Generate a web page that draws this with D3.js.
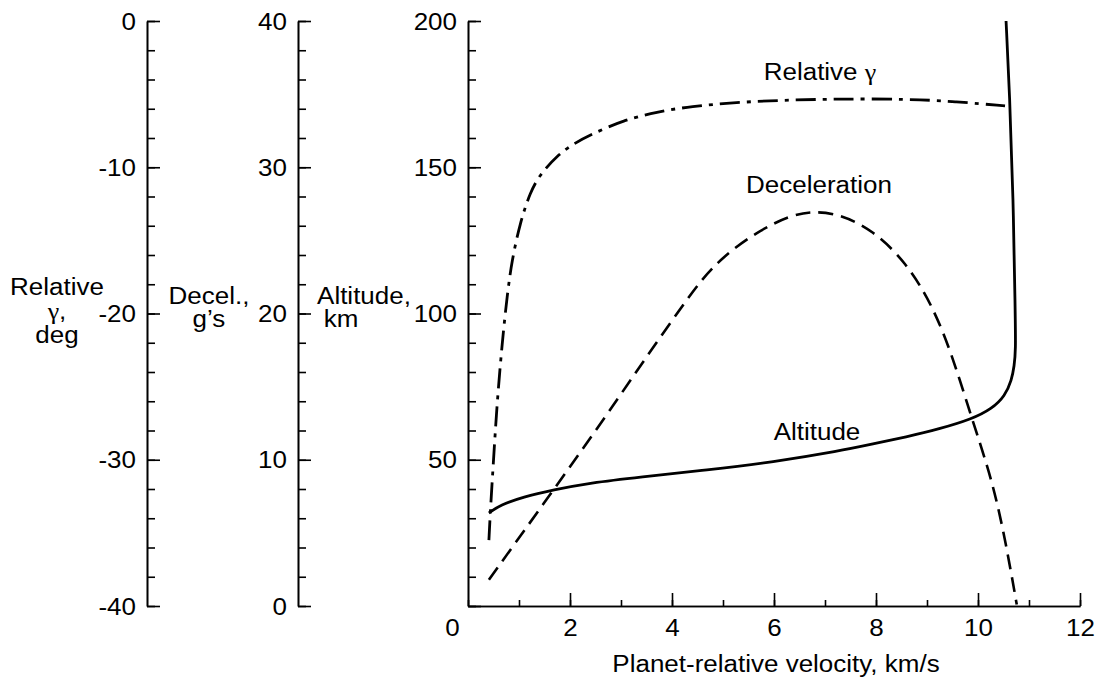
<!DOCTYPE html>
<html>
<head>
<meta charset="utf-8">
<script src="https://cdn.jsdelivr.net/npm/d3@7"></script>
<style>
  html, body { margin: 0; padding: 0; background: #fff; }
  svg { display: block; }
  text { font-family: "Liberation Sans", Arial, Helvetica, sans-serif; fill: #000; }
</style>
</head>
<body>
<svg id="chart" width="1104" height="686"></svg>
<script>
// ---------- data ----------
const xTicks = [0, 2, 4, 6, 8, 10, 12];
const gammaTicks = [-40, -30, -20, -10, 0];
const decelTicks = [0, 10, 20, 30, 40];
const altTicks = [0, 50, 100, 150, 200];
const altTickLabels = ["", "50", "100", "150", "200"];

// Relative flight-path angle (deg) vs planet-relative velocity (km/s)
const gammaV = [0.41, 0.44, 0.49, 0.57, 0.67, 0.77, 0.86, 1.02, 1.22, 1.41, 1.75, 2.06, 2.45, 3.04, 3.71, 4.35, 5.33, 6.31, 7.29, 8.59, 9.55, 10.53];
const gammaDeg = [-35.5, -33.4, -30.6, -26.1, -22.0, -18.7, -16.4, -13.8, -11.7, -10.5, -9.2, -8.4, -7.7, -6.8, -6.2, -5.85, -5.54, -5.4, -5.33, -5.33, -5.5, -5.81];

// Deceleration (g's) vs velocity
const decelV = [0.41, 1.67, 2.73, 3.51, 4.16, 4.55, 5.0, 5.67, 6.31, 6.77, 7.29, 7.94, 8.59, 9.10, 9.49, 9.88, 10.27, 10.53, 10.76];
const decelG = [1.8, 7.9, 13.1, 17.1, 20.3, 22.2, 23.9, 25.6, 26.7, 27.0, 26.8, 25.7, 23.5, 20.6, 17.2, 12.8, 8.7, 4.65, 0.1];

// Altitude (km) vs velocity
const altV = [0.41, 0.63, 1.08, 1.67, 2.39, 3.37, 4.69, 5.98, 7.29, 7.94, 8.59, 9.24, 9.88, 10.27, 10.53, 10.66, 10.71, 10.74, 10.73, 10.69, 10.62, 10.55];
const altKm = [31.8, 34.5, 37.3, 39.7, 42.1, 44.1, 46.5, 49.2, 53.0, 55.4, 57.8, 60.5, 63.9, 67.4, 71.8, 77.3, 82.0, 87.5, 100, 140, 175, 200];

// ---------- layout ----------
const svg = d3.select("#chart");
const FS = 23, K = 1.13;
const yTop = 21, yBot = 606;
const xL = 468, xR = 1080;
const gammaX = 147, decelX = 298, altX = 468;

const x = d3.scaleLinear().domain([0, 12]).range([xL, xR]);
const yGamma = d3.scaleLinear().domain([-40, 0]).range([yBot, yTop]);
const yDecel = d3.scaleLinear().domain([0, 40]).range([yBot, yTop]);
const yAlt = d3.scaleLinear().domain([0, 200]).range([yBot, yTop]);

function stretch(sel) {
  sel.each(function () {
    const t = d3.select(this);
    const tx = +t.attr("x") || 0, ty = +t.attr("y") || 0;
    t.attr("transform", `translate(${tx},${ty}) scale(${K},1) translate(${-tx},${-ty})`);
  });
}

function styleAxis(g) {
  g.selectAll("path.domain").attr("stroke", "#000").attr("stroke-width", 1.6);
  g.selectAll(".tick line").attr("stroke", "#000").attr("stroke-width", 1.6);
  g.selectAll("text").attr("font-size", FS).attr("font-family", '"Liberation Sans", Arial, sans-serif').attr("fill", "#000");
}

function yAxis(scale, xpos, majors, minors, labels) {
  const gMin = svg.append("g").attr("transform", `translate(${xpos},0)`)
    .call(d3.axisLeft(scale).tickValues(minors).tickSizeInner(-8).tickSizeOuter(0).tickFormat(""));
  styleAxis(gMin);
  const g = svg.append("g").attr("transform", `translate(${xpos},0)`)
    .call(d3.axisLeft(scale).tickValues(majors).tickSizeInner(-13).tickSizeOuter(0).tickPadding(11)
      .tickFormat((d, i) => labels ? labels[i] : String(d)));
  styleAxis(g);
  g.selectAll("text").attr("dy", "0.35em");
  stretch(g.selectAll("text"));
  return g;
}

yAxis(yGamma, gammaX, gammaTicks, d3.range(-40, 0.1, 2));
yAxis(yDecel, decelX, decelTicks, d3.range(0, 40.1, 2));
yAxis(yAlt, altX, altTicks, d3.range(0, 200.1, 10), altTickLabels);

// x axis
const gxMin = svg.append("g").attr("transform", `translate(0,${yBot})`)
  .call(d3.axisBottom(x).tickValues(d3.range(0, 12.1, 1)).tickSizeInner(-6).tickSizeOuter(0).tickFormat(""));
styleAxis(gxMin);
const gx = svg.append("g").attr("transform", `translate(0,${yBot})`)
  .call(d3.axisBottom(x).tickValues(xTicks).tickSizeInner(-13).tickSizeOuter(0).tickPadding(14).tickFormat(d => String(d)));
styleAxis(gx);
gx.selectAll(".tick").filter(d => d === 0).select("text").attr("x", -16);
gx.selectAll(".tick").filter(d => d === 0).select("line").remove();
stretch(gx.selectAll("text"));

// ---------- axis titles ----------
function label(lines, cx, baselines) {
  lines.forEach((s, i) => {
    const c = Array.isArray(cx) ? cx[i] : cx;
    const t = svg.append("text").attr("x", c).attr("y", baselines[i])
      .attr("text-anchor", "middle").attr("font-size", FS);
    const parts = s.split(/(γ)/);
    parts.forEach(p => {
      if (!p) return;
      const ts = t.append("tspan").text(p);
      if (p === "γ") ts.attr("font-family", '"Liberation Serif", "DejaVu Serif", serif');
    });
    stretch(t);
  });
}
label(["Relative", "γ,", "deg"], 57, [295, 319, 343]);
label(["Decel.,", "g’s"], 209, [304, 327]);
label(["Altitude,", "km"], [364, 341], [304, 327]);
label(["Planet-relative velocity, km/s"], 776, [672]);

// ---------- curves ----------
const lineB = (ys) => d3.line().x(d => x(d[0])).y(d => ys(d[1])).curve(d3.curveBasis);

svg.append("path").datum(d3.zip(gammaV, gammaDeg))
  .attr("d", lineB(yGamma)).attr("fill", "none").attr("stroke", "#000")
  .attr("stroke-width", 2.8).attr("stroke-dasharray", "20,7,4,7");

svg.append("path").datum(d3.zip(decelV, decelG))
  .attr("d", lineB(yDecel)).attr("fill", "none").attr("stroke", "#000")
  .attr("stroke-width", 2.6).attr("stroke-dasharray", "15,8");

svg.append("path").datum(d3.zip(altV, altKm))
  .attr("d", lineB(yAlt)).attr("fill", "none").attr("stroke", "#000")
  .attr("stroke-width", 2.8);

// curve labels
label(["Relative γ"], 820, [80]);
label(["Deceleration"], 819, [193]);
label(["Altitude"], 817, [440]);
</script>
</body>
</html>
